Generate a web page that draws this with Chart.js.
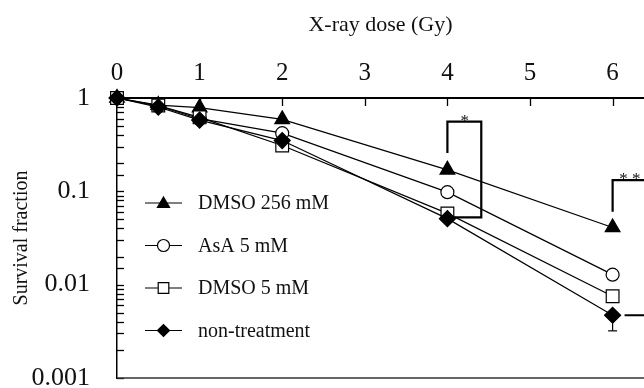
<!DOCTYPE html>
<html>
<head>
<meta charset="utf-8">
<script src="https://cdn.jsdelivr.net/npm/chart.js@4"></script>
<style>
html,body{margin:0;padding:0;background:#fff;}
#wrap{width:644px;height:388px;position:relative;}
</style>
</head>
<body>
<div id="wrap"><canvas id="c" width="644" height="388"></canvas></div>
<script>
// ---- data ----
const doses = [0, 0.5, 1, 2, 4, 6];
const dmso256 = [1, 0.84, 0.79, 0.59, 0.17, 0.041];
const asa5 = [1, 0.82, 0.6, 0.42, 0.098, 0.0128];
const dmso5 = [1, 0.83, 0.62, 0.31, 0.058, 0.0075];
const nonTreat = [1, 0.8, 0.58, 0.35, 0.051, 0.0047];
const nonTreatErrLow = [0, 0, 0, 0, 0, 0.0015];
const seriesLabels = ['DMSO 256 mM', 'AsA 5 mM', 'DMSO 5 mM', 'non-treatment'];
const xTicks = [0, 1, 2, 3, 4, 5, 6];
const yTickValues = [1, 0.1, 0.01, 0.001];
const yTickLabels = ['1', '0.1', '0.01', '0.001'];
const xTitle = 'X-ray dose (Gy)';
const yTitle = 'Survival fraction';
// significance brackets (data space)
const bracket1 = [[4, 0.257], [4, 0.557], [4.41, 0.557], [4.41, 0.0525], [4.09, 0.0525]];
const bracket1Label = ['*', 4.21, 0.557];
const bracket2a = [[6, 0.0603], [6, 0.132], [6.6, 0.132]];
const bracket2b = [[6.145, 0.0047], [6.6, 0.0047]];
const bracket2Label = ['* *', 6.21, 0.132];

const FONT = "'Liberation Serif', 'Times New Roman', serif";
const INK = '#111';
Chart.defaults.font.family = FONT;
Chart.defaults.color = INK;

const styles = [
  {pointStyle: 'triangle', radius: 8.5, bg: '#000', order: 4},
  {pointStyle: 'circle', radius: 6.5, bg: '#fff', order: 3},
  {pointStyle: 'rect', radius: 9, bg: '#fff', order: 2},
  {pointStyle: 'rectRot', radius: 8, bg: '#000', order: 1}
];
const seriesValues = [dmso256, asa5, dmso5, nonTreat];

const datasets = seriesValues.map((vals, i) => ({
  label: seriesLabels[i],
  data: doses.map((d, j) => ({x: d, y: vals[j]})),
  borderColor: '#000',
  borderWidth: 1.2,
  pointStyle: styles[i].pointStyle,
  pointRadius: styles[i].radius,
  pointBackgroundColor: styles[i].bg,
  pointBorderColor: '#000',
  pointBorderWidth: 1.2,
  order: styles[i].order,
  clip: false,
  tension: 0
}));

function drawMarker(ctx, style, radius, x, y) {
  ctx.save();
  ctx.fillStyle = style.bg;
  ctx.strokeStyle = '#000';
  ctx.lineWidth = 1.2;
  if (Chart.helpers && Chart.helpers.drawPoint) {
    Chart.helpers.drawPoint(ctx, {pointStyle: style.pointStyle, radius: radius, rotation: 0, borderWidth: 1.2}, x, y);
  }
  ctx.restore();
}

const decorPlugin = {
  id: 'decor',
  beforeDatasetsDraw(chart) {
    const ctx = chart.ctx, xs = chart.scales.x, ys = chart.scales.y, ca = chart.chartArea;
    ctx.save();
    ctx.strokeStyle = '#000';
    ctx.lineWidth = 1.3;
    xs.ticks.forEach(t => {
      const px = Math.round(xs.getPixelForValue(t.value)) + 0.5;
      ctx.beginPath(); ctx.moveTo(px, ca.top); ctx.lineTo(px, ca.top + 8); ctx.stroke();
    });
    ys.ticks.forEach(t => {
      const py = Math.round(ys.getPixelForValue(t.value)) + 0.5;
      ctx.beginPath(); ctx.moveTo(ca.left, py); ctx.lineTo(ca.left + 7, py); ctx.stroke();
    });
    ctx.strokeStyle = '#333';
    ctx.lineWidth = 1.6;
    ctx.beginPath(); ctx.moveTo(ca.left, ca.bottom); ctx.lineTo(ca.right, ca.bottom); ctx.stroke();
    ctx.restore();
  },
  afterDatasetsDraw(chart) {
    const ctx = chart.ctx, xs = chart.scales.x, ys = chart.scales.y, ca = chart.chartArea;
    ctx.save();
    ctx.strokeStyle = '#000';
    ctx.lineWidth = 1.2;
    doses.forEach((d, j) => {
      const e = nonTreatErrLow[j];
      if (!e) return;
      const px = xs.getPixelForValue(d);
      const y0 = ys.getPixelForValue(nonTreat[j]);
      const y1 = ys.getPixelForValue(nonTreat[j] - e);
      ctx.beginPath(); ctx.moveTo(px, y0 + 8); ctx.lineTo(px, y1); ctx.stroke();
      ctx.beginPath(); ctx.moveTo(px - 4.5, y1); ctx.lineTo(px + 4.5, y1); ctx.stroke();
    });
    ctx.lineWidth = 2.2;
    ctx.lineJoin = 'miter';
    [bracket1, bracket2a, bracket2b].forEach(path => {
      ctx.beginPath();
      path.forEach((p, k) => {
        const px = xs.getPixelForValue(p[0]), py = ys.getPixelForValue(p[1]);
        if (k === 0) ctx.moveTo(px, py); else ctx.lineTo(px, py);
      });
      ctx.stroke();
    });
    ctx.fillStyle = INK;
    ctx.font = '17px ' + FONT;
    ctx.textAlign = 'center';
    ctx.textBaseline = 'alphabetic';
    [bracket1Label, bracket2Label].forEach(l => {
      const px = xs.getPixelForValue(l[1]), py = ys.getPixelForValue(l[2]);
      ctx.fillText(l[0], px, py - 4 + 8.3);
    });
    const lx1 = ca.left + 28, lx2 = ca.left + 65, tx = ca.left + 81;
    const ly0 = ca.top + 105, dy = 42.5;
    ctx.font = '20px ' + FONT;
    ctx.textAlign = 'left';
    ctx.textBaseline = 'middle';
    seriesLabels.forEach((lab, i) => {
      const y = ly0 + i * dy;
      ctx.strokeStyle = '#000';
      ctx.lineWidth = 1.2;
      ctx.beginPath(); ctx.moveTo(lx1, y); ctx.lineTo(lx2, y); ctx.stroke();
      const r = styles[i].pointStyle === 'triangle' ? 7 : (styles[i].pointStyle === 'rect' ? 7.5 : 6);
      drawMarker(ctx, styles[i], r, (lx1 + lx2) / 2, y + (styles[i].pointStyle === 'triangle' ? 1 : 0));
      ctx.fillStyle = INK;
      ctx.fillText(lab, tx, y + 1);
    });
    ctx.restore();
  }
};

new Chart(document.getElementById('c'), {
  type: 'line',
  data: {datasets: datasets},
  options: {
    responsive: false,
    animation: false,
    events: [],
    layout: {autoPadding: false, padding: {left: 0, right: 0, top: 0, bottom: 10}},
    plugins: {legend: {display: false}, tooltip: {enabled: false}, title: {display: false}},
    scales: {
      x: {
        type: 'linear',
        position: 'top',
        min: 0,
        max: 6.38,
        afterBuildTicks: s => { s.ticks = xTicks.map(v => ({value: v})); },
        afterFit: s => { s.height = 98; s.paddingLeft = 0; s.paddingRight = 0; },
        grid: {display: true, drawOnChartArea: false, drawTicks: false},
        border: {display: true, color: '#000', width: 2},
        ticks: {font: {size: 25}, color: INK, padding: 10, maxRotation: 0, autoSkip: false},
        title: {display: true, text: xTitle, font: {size: 22}, color: INK, padding: {top: 11.8, bottom: 0}}
      },
      y: {
        type: 'logarithmic',
        position: 'left',
        min: 0.001,
        max: 1,
        afterFit: s => { s.width = 117; s.paddingTop = 0; s.paddingBottom = 0; },
        grid: {display: true, drawOnChartArea: false, drawTicks: false},
        border: {display: true, color: '#000', width: 1.5},
        ticks: {
          font: {size: 26}, color: INK, padding: 27, autoSkip: false,
          callback: function(v) {
            for (let k = 0; k < yTickValues.length; k++) {
              if (Math.abs(Math.log10(v) - Math.log10(yTickValues[k])) < 1e-6) return yTickLabels[k];
            }
            return '';
          }
        },
        title: {display: true, text: yTitle, font: {size: 20}, color: INK, padding: {top: 10, bottom: 0}}
      }
    }
  },
  plugins: [decorPlugin]
});
</script>
</body>
</html>
